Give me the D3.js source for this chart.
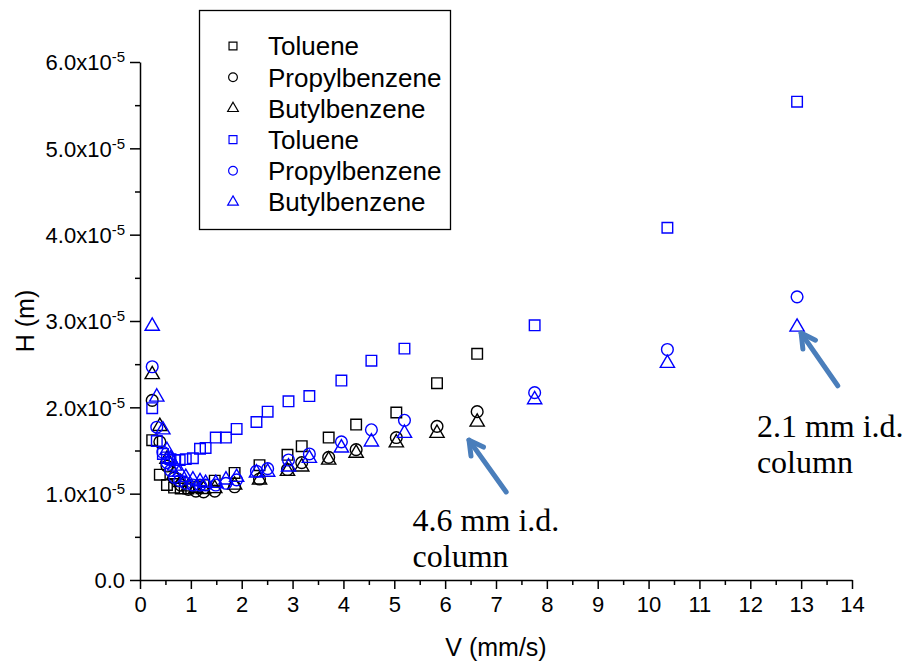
<!DOCTYPE html>
<html>
<head>
<meta charset="utf-8">
<script src="https://cdn.jsdelivr.net/npm/d3@7"></script>
<style>
  body { margin: 0; background: #fff; }
  .axis path, .axis line { stroke: #000; stroke-width: 1.5px; }
  .axis text { font-family: "Liberation Sans", Arial, sans-serif; fill: #000; }
</style>
</head>
<body>
<div id="chart"></div>
<script>
// H values are in units of 1e-5 m

// 4.6 mm i.d. column (black symbols)
const v46 = [0.24, 0.39, 0.53, 0.67, 0.80, 0.95, 1.10, 1.25, 1.47, 1.86, 2.35, 2.90, 3.18, 3.71, 4.25, 5.04, 5.84, 6.63];
const tol46 = [1.62, 1.22, 1.10, 1.07, 1.06, 1.06, 1.08, 1.10, 1.15, 1.24, 1.33, 1.45, 1.55, 1.65, 1.80, 1.94, 2.28, 2.62];
const pro46 = [2.08, 1.60, 1.32, 1.18, 1.10, 1.05, 1.03, 1.02, 1.03, 1.08, 1.17, 1.28, 1.36, 1.42, 1.51, 1.65, 1.78, 1.95];
const but46 = [2.38, 1.78, 1.40, 1.22, 1.13, 1.08, 1.06, 1.05, 1.06, 1.10, 1.16, 1.26, 1.31, 1.39, 1.47, 1.59, 1.70, 1.83];

// 2.1 mm i.d. column (blue symbols)
const v21 = [0.24, 0.33, 0.45, 0.53, 0.60, 0.68, 0.78, 0.90, 1.04, 1.18, 1.29, 1.49, 1.69, 1.90, 2.29, 2.51, 2.92, 3.33, 3.96, 4.55, 5.20, 7.76, 10.37, 12.92];
const tol21 = [1.99, 1.61, 1.46, 1.42, 1.40, 1.39, 1.39, 1.40, 1.41, 1.52, 1.53, 1.65, 1.65, 1.75, 1.83, 1.95, 2.07, 2.13, 2.31, 2.54, 2.68, 2.95, 4.08, 5.54];
const pro21 = [2.47, 1.77, 1.48, 1.36, 1.27, 1.19, 1.15, 1.12, 1.10, 1.10, 1.10, 1.10, 1.12, 1.16, 1.26, 1.29, 1.39, 1.46, 1.60, 1.74, 1.85, 2.17, 2.67, 3.28];
const but21 = [2.94, 2.12, 1.74, 1.50, 1.40, 1.32, 1.25, 1.19, 1.16, 1.14, 1.12, 1.12, 1.16, 1.19, 1.24, 1.25, 1.31, 1.41, 1.53, 1.60, 1.70, 2.09, 2.51, 2.93];

const legendNames = ["Toluene", "Propylbenzene", "Butylbenzene", "Toluene", "Propylbenzene", "Butylbenzene"];
const xTicks = d3.range(0, 15, 1);
const yTicks = [0, 1, 2, 3, 4, 5, 6];

const margin = { top: 62, left: 140, right: 55, bottom: 84 },
  width = 907 - margin.left - margin.right,
  height = 664 - margin.top - margin.bottom;

const svg = d3.select("#chart").append("svg")
  .attr("width", 907)
  .attr("height", 664);

const g = svg.append("g")
  .attr("transform", "translate(" + margin.left + "," + margin.top + ")");

const xScale = d3.scaleLinear().domain([0, 14]).range([0, width]);
const yScale = d3.scaleLinear().domain([0, 6]).range([height, 0]);

// minor ticks
g.append("g")
  .attr("class", "axis")
  .attr("transform", "translate(0," + height + ")")
  .call(d3.axisBottom(xScale).tickValues(d3.range(0.5, 14, 1)).tickSize(5).tickFormat(""))
  .select(".domain").remove();
g.append("g")
  .attr("class", "axis")
  .call(d3.axisLeft(yScale).tickValues(d3.range(0.5, 6, 1)).tickSize(5).tickFormat(""))
  .select(".domain").remove();

// X axis
const xAxis = g.append("g")
  .attr("class", "axis")
  .attr("transform", "translate(0," + height + ")")
  .call(d3.axisBottom(xScale).tickValues(xTicks).tickSize(9).tickSizeOuter(0).tickPadding(7).tickFormat(d3.format("d")));
xAxis.selectAll("text").style("font-size", "22px");

// Y axis
const yAxis = g.append("g")
  .attr("class", "axis")
  .call(d3.axisLeft(yScale).tickValues(yTicks).tickSize(10).tickSizeOuter(0).tickPadding(5).tickFormat(""));

yAxis.selectAll(".tick").append("text")
  .attr("x", -15)
  .attr("dy", "0.36em")
  .attr("text-anchor", "end")
  .style("font-size", "22px")
  .each(function(d) {
    const t = d3.select(this);
    if (d === 0) { t.text("0.0"); return; }
    t.append("tspan").text(d.toFixed(1) + "x10");
    t.append("tspan").attr("dy", "-0.55em").style("font-size", "15px").text("-5");
  });

// axis labels
g.append("text")
  .attr("transform", "translate(" + (25 - margin.left) + "," + yScale(3) + ") rotate(-90)")
  .attr("text-anchor", "middle")
  .attr("dy", "0.36em")
  .style("font-family", "'Liberation Sans', Arial, sans-serif")
  .style("font-size", "25px")
  .text("H (m)");

g.append("text")
  .attr("x", xScale(7))
  .attr("y", height + 76)
  .attr("text-anchor", "middle")
  .style("font-family", "'Liberation Sans', Arial, sans-serif")
  .style("font-size", "25px")
  .text("V (mm/s)");

// series
const series = [
  { v: v46, h: tol46, shape: d3.symbolSquare, color: "#000" },
  { v: v46, h: pro46, shape: d3.symbolCircle, color: "#000" },
  { v: v46, h: but46, shape: d3.symbolTriangle, color: "#000" },
  { v: v21, h: tol21, shape: d3.symbolSquare, color: "#0000ff" },
  { v: v21, h: pro21, shape: d3.symbolCircle, color: "#0000ff" },
  { v: v21, h: but21, shape: d3.symbolTriangle, color: "#0000ff" }
];
const markSize = { square: 112, circle: 108, triangle: 88 };
function sizeOf(shape, k) {
  if (shape === d3.symbolSquare) return markSize.square * k;
  if (shape === d3.symbolCircle) return markSize.circle * k;
  return markSize.triangle * k;
}

series.forEach(function(s) {
  g.append("g").selectAll("path")
    .data(s.v.map((v, i) => [v, s.h[i]]))
    .enter().append("path")
    .attr("transform", d => "translate(" + xScale(d[0]) + "," + yScale(d[1]) + ")")
    .attr("d", d3.symbol().type(s.shape).size(sizeOf(s.shape, 1)))
    .attr("fill", "none")
    .attr("stroke", s.color)
    .attr("stroke-width", 1.4);
});

// legend
const legend = svg.append("g");
legend.append("rect")
  .attr("x", 199.5).attr("y", 10.5)
  .attr("width", 251).attr("height", 219)
  .attr("fill", "#fff")
  .attr("stroke", "#000")
  .attr("stroke-width", 1.3);

const rowY = d3.scaleLinear().domain([0, 5]).range([46, 202]);
series.forEach(function(s, i) {
  legend.append("path")
    .attr("transform", "translate(233," + rowY(i) + ")")
    .attr("d", d3.symbol().type(s.shape).size(sizeOf(s.shape, 0.56)))
    .attr("fill", "none")
    .attr("stroke", s.color)
    .attr("stroke-width", 1.2);
  legend.append("text")
    .attr("x", 268)
    .attr("y", rowY(i))
    .attr("dy", "0.36em")
    .style("font-family", "'Liberation Sans', Arial, sans-serif")
    .style("font-size", "26px")
    .text(legendNames[i]);
});

// annotations
const arrowColor = "#4a7ebb";
function arrow(x1, y1, x2, y2) {
  const px1 = xScale(x1), py1 = yScale(y1), px2 = xScale(x2), py2 = yScale(y2);
  const ang = Math.atan2(py1 - py2, px1 - px2);
  const head = 16, spread = 0.5;
  g.append("line")
    .attr("x1", px1).attr("y1", py1).attr("x2", px2).attr("y2", py2)
    .attr("stroke", arrowColor).attr("stroke-width", 5).attr("stroke-linecap", "round");
  g.append("path")
    .attr("d", d3.line()([
      [px2 + head * Math.cos(ang + spread), py2 + head * Math.sin(ang + spread)],
      [px2, py2],
      [px2 + head * Math.cos(ang - spread), py2 + head * Math.sin(ang - spread)]
    ]))
    .attr("fill", "none")
    .attr("stroke", arrowColor).attr("stroke-width", 5)
    .attr("stroke-linecap", "round").attr("stroke-linejoin", "round");
}
arrow(7.2, 1.02, 6.47, 1.62);
arrow(13.72, 2.25, 13.0, 2.86);

function note(x, y, lines) {
  const t = g.append("text")
    .attr("x", xScale(x))
    .attr("y", yScale(y))
    .style("font-family", "'Liberation Serif', 'Times New Roman', serif")
    .style("font-size", "32px");
  lines.forEach(function(l, i) {
    t.append("tspan").attr("x", xScale(x)).attr("dy", i === 0 ? 0 : "1.13em").text(l);
  });
}
note(5.36, 0.57, ["4.6 mm i.d.", "column"]);
note(12.13, 1.66, ["2.1 mm i.d.", "column"]);
</script>
</body>
</html>
